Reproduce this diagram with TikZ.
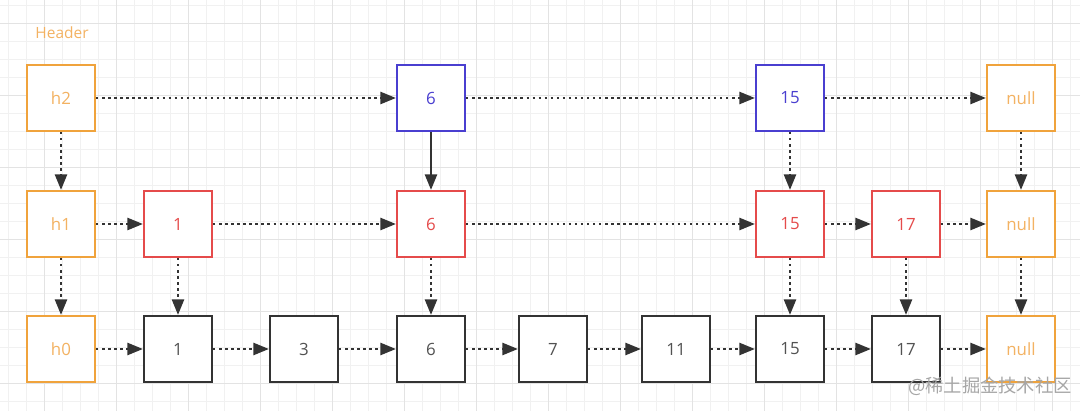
\documentclass[tikz,border=0pt]{standalone}
\usepackage{fontspec}
\setmainfont{Open Sans}
\newfontfamily\cjkfont{Noto Sans CJK SC}
\usetikzlibrary{arrows.meta}

\definecolor{hdrorange}{HTML}{F0A33C}
\definecolor{hdrtext}{HTML}{F3B262}
\definecolor{lvltwo}{HTML}{4A3FD0}
\definecolor{lvlone}{HTML}{E54B4B}
\definecolor{lvlzero}{HTML}{333333}
\definecolor{gridminor}{HTML}{F1F1F1}
\definecolor{gridmajor}{HTML}{E3E3E3}

\tikzset{
  cell/.style={draw, line width=1.5pt, fill=white, minimum width=1.7cm,
    minimum height=1.65cm, inner sep=0pt, font=\fontsize{12}{14}\selectfont},
  headcell/.style={cell, draw=hdrorange, text=hdrtext},
  topcell/.style={cell, draw=lvltwo, text=lvltwo},
  midcell/.style={cell, draw=lvlone, text=lvlone},
  botcell/.style={cell, draw=lvlzero, text=lvlzero!85},
  link/.style={draw=lvlzero, line width=1.7pt, dash pattern=on 1.7pt off 2.6pt,
    -{Triangle[length=11pt,width=8.5pt]}},
  solidlink/.style={link, solid},
}

\begin{document}
\begin{tikzpicture}[x=0.025cm, y=-0.025cm]
% Picture size in px
\def\picw{1080}
\def\pich{411}
\useasboundingbox (0,0) rectangle (\picw,\pich);
\fill[white] (0,0) rectangle (\picw,\pich);

% Background grid: minor every 18px, major every 72px
\foreach \gx in {8,26,...,1080} {
    \draw[gridminor, line width=0.5pt] (\gx,0) -- (\gx,\pich);
}
\foreach \gy in {5,23,...,411} {
    \draw[gridminor, line width=0.5pt] (0,\gy) -- (\picw,\gy);
}
\foreach \gx in {44,116,...,1080} {
    \draw[gridmajor, line width=0.6pt] (\gx,0) -- (\gx,\pich);
}
\foreach \gy in {23,95,...,411} {
    \draw[gridmajor, line width=0.6pt] (0,\gy) -- (\picw,\gy);
}

% Row centres
\def\rtop{98}
\def\rmid{224}
\def\rbot{349}

\node[text=hdrtext, font=\fontsize{11}{13}\selectfont] (header) at (62,33) {Header};

% Header column
\node[headcell] (h2) at (61,\rtop) {h2};
\node[headcell] (h1) at (61,\rmid) {h1};
\node[headcell] (h0) at (61,\rbot) {h0};

% Level 2
\node[topcell] (t6) at (431,\rtop) {6};
\node[topcell] (t15) at (790,\rtop) {15};
\node[headcell] (tnull) at (1021,\rtop) {null};

% Level 1
\foreach \val/\xc in {1/178,6/431,15/790,17/906} {
    \node[midcell] (m\val) at (\xc,\rmid) {\val};
}
\node[headcell] (mnull) at (1021,\rmid) {null};

% Level 0
\foreach \val/\xc in {1/178,3/304,6/431,7/553,11/676,15/790,17/906} {
    \node[botcell] (b\val) at (\xc,\rbot) {\val};
}
\node[headcell] (bnull) at (1021,\rbot) {null};

% Horizontal links
\foreach \a/\b in {h2/t6,t6/t15,t15/tnull,
                   h1/m1,m1/m6,m6/m15,m15/m17,m17/mnull,
                   h0/b1,b1/b3,b3/b6,b6/b7,b7/b11,b11/b15,b15/b17,b17/bnull} {
    \draw[link] (\a) -- (\b);
}

% Vertical links
\foreach \a/\b in {h2/h1,t15/m15,tnull/mnull,
                   h1/h0,m1/b1,m6/b6,m15/b15,m17/b17,mnull/bnull} {
    \draw[link] (\a) -- (\b);
}
\draw[solidlink] (t6) -- (m6);

% Watermark
\node[text=black!35, font=\cjkfont\fontsize{13}{15}\selectfont] (mark) at (990,386) {@稀土掘金技术社区};

\end{tikzpicture}
\end{document}
